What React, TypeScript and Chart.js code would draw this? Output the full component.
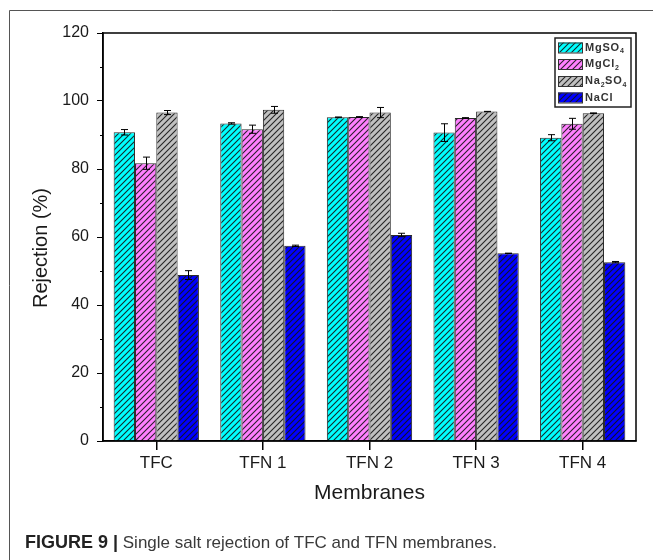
import React, { useEffect, useRef } from 'react';
import { Chart, registerables } from 'chart.js';
Chart.register(...registerables);

const categories = ['TFC', 'TFN 1', 'TFN 2', 'TFN 3', 'TFN 4'];
const mgso4 = [90.8, 93.4, 95.2, 90.7, 89.2];
const mgso4Err = [0.8, 0.2, 0.1, 2.6, 0.9];
const mgcl2 = [81.7, 91.7, 95.3, 95.0, 93.3];
const mgcl2Err = [1.8, 1.2, 0.1, 0.1, 1.6];
const na2so4 = [96.6, 97.4, 96.6, 96.9, 96.4];
const na2so4Err = [0.6, 1.0, 1.5, 0.05, 0.1];
const nacl = [48.8, 57.4, 60.6, 55.2, 52.6];
const naclErr = [1.3, 0.2, 0.5, 0.05, 0.2];
const yTicks = [0, 20, 40, 60, 80, 100, 120];
const yMinorTicks = [10, 30, 50, 70, 90, 110];

const legendParts = [
  [{ t: 'MgSO' }, { t: '4', sub: true }],
  [{ t: 'MgCl' }, { t: '2', sub: true }],
  [{ t: 'Na' }, { t: '2', sub: true }, { t: 'SO' }, { t: '4', sub: true }],
  [{ t: 'NaCl' }],
];

const FONT = '"Liberation Sans", Arial, Helvetica, sans-serif';
const colors = ['#00FFFF', '#FF80FF', '#C0C0C0', '#0000FF'];

function hatch(color: string) {
  const c = document.createElement('canvas');
  c.width = 6;
  c.height = 6;
  const g = c.getContext('2d')!;
  g.fillStyle = color;
  g.fillRect(0, 0, 6, 6);
  g.strokeStyle = 'rgba(20,20,20,0.9)';
  g.lineWidth = 1.1;
  g.beginPath();
  g.moveTo(-1, 7);
  g.lineTo(7, -1);
  g.moveTo(-1, 1);
  g.lineTo(1, -1);
  g.moveTo(5, 7);
  g.lineTo(7, 5);
  g.stroke();
  return g.createPattern(c, 'repeat')!;
}

export default function App() {
  const ref = useRef<HTMLCanvasElement>(null);

  useEffect(() => {
    const canvas = ref.current!;
    const patterns = colors.map(hatch);
    const errs = [mgso4Err, mgcl2Err, na2so4Err, naclErr];

    const decor = {
      id: 'decor',
      beforeDraw(chart: any) {
        const ctx = chart.ctx;
        ctx.save();
        ctx.fillStyle = '#fff';
        ctx.fillRect(0, 0, chart.width, chart.height);
        ctx.strokeStyle = '#555';
        ctx.lineWidth = 1;
        ctx.beginPath();
        ctx.moveTo(9.5, 560);
        ctx.lineTo(9.5, 10.5);
        ctx.lineTo(653, 10.5);
        ctx.stroke();
        ctx.restore();
      },
      afterDatasetsDraw(chart: any) {
        const ctx = chart.ctx;
        const ys = chart.scales.y;
        ctx.save();
        ctx.strokeStyle = '#000';
        ctx.lineWidth = 1;
        chart.data.datasets.forEach((ds: any, di: number) => {
          const meta = chart.getDatasetMeta(di);
          meta.data.forEach((bar: any, i: number) => {
            const v = ds.data[i];
            const e = errs[di][i];
            const x = Math.round(bar.x) + 0.5;
            const y1 = ys.getPixelForValue(v + e);
            const y2 = ys.getPixelForValue(v - e);
            ctx.beginPath();
            ctx.moveTo(x, y1);
            ctx.lineTo(x, y2);
            ctx.moveTo(x - 3.5, y1);
            ctx.lineTo(x + 3.5, y1);
            ctx.moveTo(x - 3.5, y2);
            ctx.lineTo(x + 3.5, y2);
            ctx.stroke();
          });
        });
        ctx.restore();
      },
      afterDraw(chart: any) {
        const ctx = chart.ctx;
        const a = chart.chartArea;
        const ys = chart.scales.y;
        ctx.save();
        // plot box
        ctx.strokeStyle = '#000';
        ctx.lineWidth = 1.5;
        ctx.strokeRect(a.left, a.top, a.right - a.left, a.bottom - a.top);
        // minor ticks
        ctx.lineWidth = 1;
        yMinorTicks.forEach((v) => {
          const y = Math.round(ys.getPixelForValue(v)) + 0.5;
          ctx.beginPath();
          ctx.moveTo(a.left - 3, y);
          ctx.lineTo(a.left, y);
          ctx.stroke();
        });
        // legend
        const lx = 555, ly = 38, lw = 76, lh = 69;
        ctx.fillStyle = '#fff';
        ctx.fillRect(lx, ly, lw, lh);
        ctx.lineWidth = 1.5;
        ctx.strokeStyle = '#222';
        ctx.strokeRect(lx, ly, lw, lh);
        const rowsY = [47.5, 64, 81, 97.5];
        rowsY.forEach((cy, i) => {
          ctx.fillStyle = patterns[i];
          ctx.fillRect(558, cy - 5, 25, 10);
          ctx.lineWidth = 1;
          ctx.strokeStyle = '#333';
          ctx.strokeRect(558.5, cy - 4.5, 24, 10);
          let x = 585;
          ctx.fillStyle = '#333';
          ctx.textBaseline = 'middle';
          ctx.textAlign = 'left';
          legendParts[i].forEach((p: any) => {
            if (p.sub) {
              ctx.font = `bold 7px ${FONT}`;
              ctx.fillText(p.t, x, cy + 4);
              x += ctx.measureText(p.t).width + 0.5;
            } else {
              ctx.font = `bold 11px ${FONT}`;
              for (const ch of p.t) {
                ctx.fillText(ch, x, cy);
                x += ctx.measureText(ch).width + 0.8;
              }
            }
          });
        });
        // axis titles
        ctx.fillStyle = '#1a1a1a';
        ctx.textAlign = 'center';
        ctx.textBaseline = 'middle';
        ctx.font = `21px ${FONT}`;
        ctx.fillText('Membranes', (a.left + a.right) / 2, 493);
        ctx.save();
        ctx.translate(41, 248);
        ctx.rotate(-Math.PI / 2);
        ctx.font = `20px ${FONT}`;
        ctx.fillText('Rejection (%)', 0, 0);
        ctx.restore();
        // caption
        ctx.textAlign = 'left';
        ctx.textBaseline = 'alphabetic';
        ctx.font = `bold 18px ${FONT}`;
        ctx.fillStyle = '#222';
        const bold = 'FIGURE 9 |';
        ctx.fillText(bold, 25, 548);
        const bw = ctx.measureText(bold).width;
        ctx.font = `17px ${FONT}`;
        ctx.fillStyle = '#3a3a3a';
        ctx.fillText(' Single salt rejection of TFC and TFN membranes.', 25 + bw, 548);
        ctx.restore();
      },
    };

    const names = ['MgSO4', 'MgCl2', 'Na2SO4', 'NaCl'];
    const series = [mgso4, mgcl2, na2so4, nacl];

    const chart = new Chart(canvas, {
      type: 'bar',
      data: {
        labels: categories,
        datasets: series.map((d, i) => ({
          label: names[i],
          data: d,
          backgroundColor: patterns[i],
          borderColor: '#2a2a2a',
          borderWidth: 1,
          categoryPercentage: 0.8,
          barPercentage: 1.0,
        })),
      },
      options: {
        responsive: false,
        animation: false,
        layout: { padding: { left: 0, top: 33, right: 17, bottom: 0 } },
        plugins: { legend: { display: false }, tooltip: { enabled: false } },
        scales: {
          x: {
            offset: true,
            grid: {
              offset: false,
              drawOnChartArea: false,
              drawTicks: true,
              tickLength: 9,
              color: '#000',
              lineWidth: 1.5,
            },
            border: { display: true, color: '#000', width: 1.5 },
            ticks: { color: '#1a1a1a', font: { family: FONT, size: 17 }, padding: 3 },
            afterFit: (s: any) => {
              s.height = 119;
            },
          },
          y: {
            min: 0,
            max: 120,
            afterBuildTicks: (s: any) => {
              s.ticks = yTicks.map((v) => ({ value: v }));
            },
            grid: {
              drawOnChartArea: false,
              drawTicks: true,
              tickLength: 6,
              color: '#000',
              lineWidth: 1,
            },
            border: { display: true, color: '#000', width: 1.5 },
            ticks: { color: '#1a1a1a', font: { family: FONT, size: 16 }, padding: 8 },
            afterFit: (s: any) => {
              s.width = 103;
            },
          },
        },
      },
      plugins: [decor],
    });
    return () => chart.destroy();
  }, []);

  return (
    <div style={{ position: 'absolute', left: 0, top: 0, width: 653, height: 560 }}>
      <canvas ref={ref} width={653} height={560} style={{ display: 'block' }} />
    </div>
  );
}
